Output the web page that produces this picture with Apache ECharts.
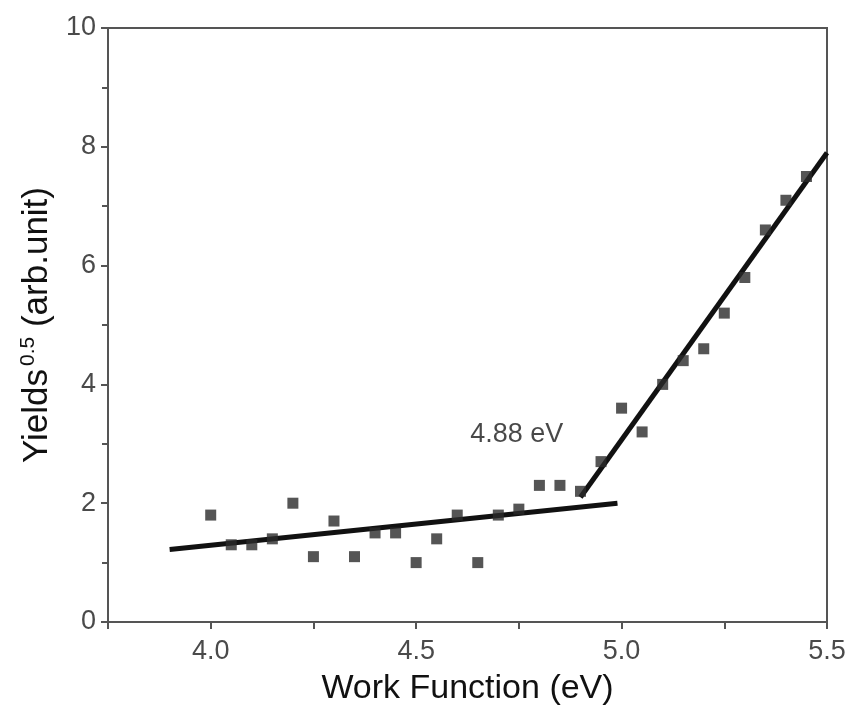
<!DOCTYPE html>
<html>
<head>
<meta charset="utf-8">
<script src="https://cdn.jsdelivr.net/npm/echarts@6/dist/echarts.min.js"></script>
<style>
  html, body { margin: 0; padding: 0; background: #fff; }
  #chart { width: 854px; height: 720px; }
</style>
</head>
<body>
<div id="chart"></div>
<script>
// work function (eV) vs. square root of photoelectron yield
const workFunction = [4.0, 4.05, 4.1, 4.15, 4.2, 4.25, 4.3, 4.35, 4.4, 4.45, 4.5, 4.55, 4.6, 4.65, 4.7, 4.75,
  4.8, 4.85, 4.9, 4.95, 5.0, 5.05, 5.1, 5.15, 5.2, 5.25, 5.3, 5.35, 5.4, 5.45];
const yields = [1.8, 1.3, 1.3, 1.4, 2.0, 1.1, 1.7, 1.1, 1.5, 1.5, 1.0, 1.4, 1.8, 1.0, 1.8, 1.9,
  2.3, 2.3, 2.2, 2.7, 3.6, 3.2, 4.0, 4.4, 4.6, 5.2, 5.8, 6.6, 7.1, 7.5];

// fitted lines (end points)
const baseFitX = [3.9, 4.99];
const baseFitY = [1.22, 2.0];
const riseFitX = [4.9, 5.5];
const riseFitY = [2.1, 7.9];

// threshold annotation
const thresholdText = '4.88 eV';
const thresholdPos = [4.745, 3.16];

const font = "'Liberation Sans', Arial, sans-serif";
const chart = echarts.init(document.getElementById('chart'));

const points = workFunction.map((x, i) => [x, yields[i]]);
const zip = (xs, ys) => xs.map((x, i) => [x, ys[i]]);

const option = {
  backgroundColor: '#fff',
  animation: false,
  grid: {
    left: 108,
    right: 27,
    top: 28,
    bottom: 98,
    show: true,
    borderColor: '#555',
    borderWidth: 2
  },
  xAxis: {
    type: 'value',
    min: 3.75,
    max: 5.5,
    interval: 0.25,
    name: 'Work Function (eV)',
    nameLocation: 'middle',
    nameGap: 50,
    nameTextStyle: { fontFamily: font, fontSize: 34, color: '#111' },
    axisLine: { show: true, lineStyle: { color: '#555', width: 2 } },
    axisTick: { show: true, inside: false, length: 7, lineStyle: { color: '#555', width: 2 } },
    axisLabel: {
      fontFamily: font,
      fontSize: 27,
      color: '#4a4a4a',
      margin: 16,
      showMaxLabel: true,
      formatter: function (v) {
        return Math.abs(v * 2 - Math.round(v * 2)) < 1e-6 ? v.toFixed(1) : '';
      }
    },
    splitLine: { show: false }
  },
  yAxis: {
    type: 'value',
    min: 0,
    max: 10,
    interval: 2,
    name: '{a|Yields}{b|0.5}{a| (arb.unit)}',
    nameLocation: 'middle',
    nameGap: 50,
    nameTextStyle: {
      fontFamily: font,
      color: '#111',
      rich: {
        a: { fontFamily: font, fontSize: 35, color: '#111' },
        b: { fontFamily: font, fontSize: 21, color: '#111', padding: [0, 0, 18, 3] }
      }
    },
    axisLine: { show: true, lineStyle: { color: '#555', width: 2 } },
    axisTick: { show: true, inside: false, length: 7, lineStyle: { color: '#555', width: 2 } },
    minorTick: { show: true, splitNumber: 2, length: 6, lineStyle: { color: '#555', width: 2 } },
    axisLabel: { fontFamily: font, fontSize: 27, color: '#4a4a4a', margin: 12, showMaxLabel: true },
    splitLine: { show: false }
  },
  series: [
    {
      name: 'base fit',
      type: 'line',
      data: zip(baseFitX, baseFitY),
      symbol: 'none',
      lineStyle: { color: '#111', width: 5 },
      z: 3
    },
    {
      name: 'rise fit',
      type: 'line',
      data: zip(riseFitX, riseFitY),
      symbol: 'none',
      lineStyle: { color: '#111', width: 5 },
      z: 3
    },
    {
      name: 'yields',
      type: 'scatter',
      data: points,
      symbol: 'rect',
      symbolSize: 11,
      itemStyle: { color: '#2a2a2a' },
      z: 4
    },
    {
      name: 'threshold',
      type: 'scatter',
      data: [thresholdPos],
      symbolSize: 0,
      silent: true,
      label: {
        show: true,
        position: 'inside',
        formatter: thresholdText,
        fontFamily: font,
        fontSize: 27,
        color: '#1a1a1a'
      }
    }
  ]
};

chart.setOption(option);
</script>
</body>
</html>
